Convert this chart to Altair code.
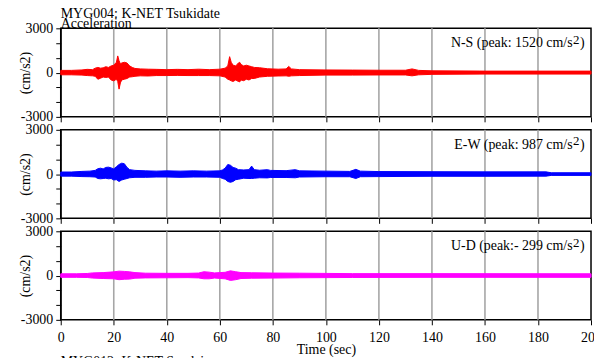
import altair as alt
import pandas as pd

# ---------------- data (envelopes) ----------------
ns_t = [0, 4, 8, 10, 12, 13, 14, 15, 16, 17, 18, 19, 20, 21, 21.5, 22, 22.5, 23, 24, 25, 26, 27, 28,
        30, 33, 36, 40, 44, 48, 52, 56, 60, 62, 63, 63.7, 64.3, 65, 66, 67, 67.5, 68, 69, 70, 71, 72,
        73, 75, 78, 82, 85, 86, 87, 90, 100, 110, 120, 130, 132.5, 135, 140, 160, 200]
ns_hi = [150, 150, 180, 220, 200, 300, 350, 300, 320, 400, 350, 450, 500, 700, 1130, 800, 600, 650, 700, 650, 450, 350, 280,
         250, 230, 220, 200, 220, 200, 230, 200, 230, 300, 450, 1080, 700, 500, 450, 650, 700, 550, 450, 500, 450, 400,
         350, 330, 260, 230, 250, 420, 250, 200, 180, 170, 160, 160, 250, 150, 120, 100, 100]
ns_lo = [-150, -150, -170, -200, -220, -250, -450, -380, -300, -330, -300, -500, -560, -450, -600, -1120, -700, -500, -450, -400, -300, -280, -250,
         -220, -230, -200, -200, -190, -200, -200, -200, -220, -300, -450, -500, -560, -600, -500, -600, -630, -500, -550, -450, -500, -400,
         -400, -300, -250, -230, -220, -250, -220, -200, -170, -170, -160, -160, -220, -150, -120, -100, -100]

ew_t = [0, 4, 8, 11, 13, 14, 15, 16, 17, 18, 19, 20, 21, 22, 23, 24, 25, 26, 28, 32, 36, 40, 45, 50, 55,
        60, 61, 62, 63, 64, 65, 66, 67, 69, 71, 72, 73, 75, 78, 79, 85, 88.5, 90, 100, 109, 111.3, 113,
        120, 140, 160, 183, 185, 200]
ew_hi = [140, 140, 180, 200, 250, 360, 400, 350, 450, 470, 420, 350, 500, 650, 740, 700, 450, 300, 250, 220, 200, 220, 200, 220, 200,
         220, 280, 400, 650, 600, 450, 400, 300, 280, 300, 540, 300, 260, 300, 250, 230, 300, 220, 200, 180, 320, 200,
         170, 160, 150, 150, 90, 90]
ew_lo = [-140, -140, -170, -180, -200, -300, -320, -300, -280, -320, -300, -400, -380, -500, -400, -350, -300, -250, -220, -220, -200, -200, -220, -200, -200,
         -220, -300, -350, -500, -560, -500, -380, -350, -280, -300, -300, -280, -250, -260, -230, -230, -250, -200, -180, -180, -300, -180,
         -170, -150, -150, -140, -90, -90]

ud_t = [0, 6, 10, 12, 16, 20, 22, 24, 26, 28, 32, 40, 48, 52, 54, 56, 58, 62, 64, 66, 68, 72, 80, 90,
        110, 140, 200]
ud_hi = [120, 120, 140, 180, 200, 250, 300, 280, 250, 200, 160, 150, 150, 170, 260, 230, 180, 220, 320, 260, 200, 190, 170, 160,
         130, 130, 120]
ud_lo = [-120, -120, -130, -170, -200, -220, -280, -250, -240, -180, -160, -150, -140, -160, -220, -220, -170, -220, -330, -280, -200, -180, -170, -150,
         -130, -120, -120]

components = ["N-S", "E-W", "U-D"]
peak_texts = ["N-S (peak: 1520 cm/s", "E-W (peak: 987 cm/s", "U-D (peak:- 299 cm/s"]
colors = ["#ff0000", "#0000ff", "#ff00ff"]
x_ticks = list(range(0, 201, 10))
y_ticks = list(range(-3000, 3001, 1000))
grid_x = list(range(20, 181, 20))
header_lines = ["MYG004: K-NET Tsukidate", "Acceleration"]
footer_line = "MYG012: K-NET Sendai"

FONT = "Liberation Serif"
W, H = 533, 89


def panel(t, hi, lo, color, peak_text, show_x, header=False, footer=False):
    df = pd.DataFrame({"t": t, "hi": hi, "lo": lo})
    xax = dict(values=x_ticks, tickSize=5, domain=False, labelFlush=False,
               labelExpr="datum.value % 20 === 0 ? '' + datum.value : ''",
               grid=False)
    if show_x:
        xax.update(labels=True, labelPadding=6, title="Time (sec)", titleY=34,
                   titleBaseline="alphabetic")
    else:
        xax.update(labels=False)
    x = alt.X("t:Q", scale=alt.Scale(domain=[0, 200], nice=False),
              axis=alt.Axis(**xax), title="Time (sec)" if show_x else None)
    y = alt.Y("hi:Q", scale=alt.Scale(domain=[-3000, 3000], nice=False),
              axis=alt.Axis(values=y_ticks, tickSize=5, labelPadding=3, grid=False,
                            labelFlush=False,
                            labelExpr="datum.value === 3000 ? '3000' : datum.value === 0 ? '0' : datum.value === -3000 ? '-3000' : ''",
                            title="(cm/s2)", titleX=-35, titleY=H / 2, titleAngle=-90,
                            titleBaseline="middle", titleAlign="center"))

    grid = alt.Chart(pd.DataFrame({"g": grid_x})).mark_rule(
        color="#a6a6a6", strokeWidth=1.6
    ).encode(x=alt.X("g:Q", scale=alt.Scale(domain=[0, 200], nice=False)))

    area = alt.Chart(df).mark_area(color=color, stroke=color, strokeWidth=1,
                                   interpolate="linear").encode(x=x, y=y, y2="lo:Q")

    def txt(s, xpx, ypx, size=14, align="right"):
        return alt.Chart(pd.DataFrame({"s": [s]})).mark_text(
            font=FONT, fontSize=size, align=align, baseline="alphabetic", color="black"
        ).encode(text="s:N", x=alt.value(xpx), y=alt.value(ypx))

    layers = [grid, area,
              txt(peak_text, 514.5, 19),
              txt("2", 521.5, 15.5, size=13),
              txt(")", 526.5, 19)]
    if header:
        layers.append(txt(header_lines[0], 0, -10.5, align="left"))
        layers.append(txt(header_lines[1], 0, -0.8, align="left"))
    if footer:
        layers.append(txt(footer_line, 0, 135, align="left"))
    return alt.layer(*layers).properties(width=W, height=H)


p1 = panel(ns_t, ns_hi, ns_lo, colors[0], peak_texts[0], False, header=True)
p2 = panel(ew_t, ew_hi, ew_lo, colors[1], peak_texts[1], False)
p3 = panel(ud_t, ud_hi, ud_lo, colors[2], peak_texts[2], True, footer=True)

chart = alt.vconcat(p1, p2, p3, spacing=13, bounds="flush").properties(
    padding={"left": 10, "top": -3.5, "right": -9, "bottom": 0}
).configure(background="white").configure_axis(
    labelFont=FONT, labelFontSize=14, labelColor="black",
    titleFont=FONT, titleFontSize=14, titleFontWeight="normal", titleColor="black",
    tickColor="black", domainColor="black", tickWidth=1
).configure_view(stroke="black", strokeWidth=1.5)

chart.save("out.html", embed_options={"renderer": "svg", "actions": False})
